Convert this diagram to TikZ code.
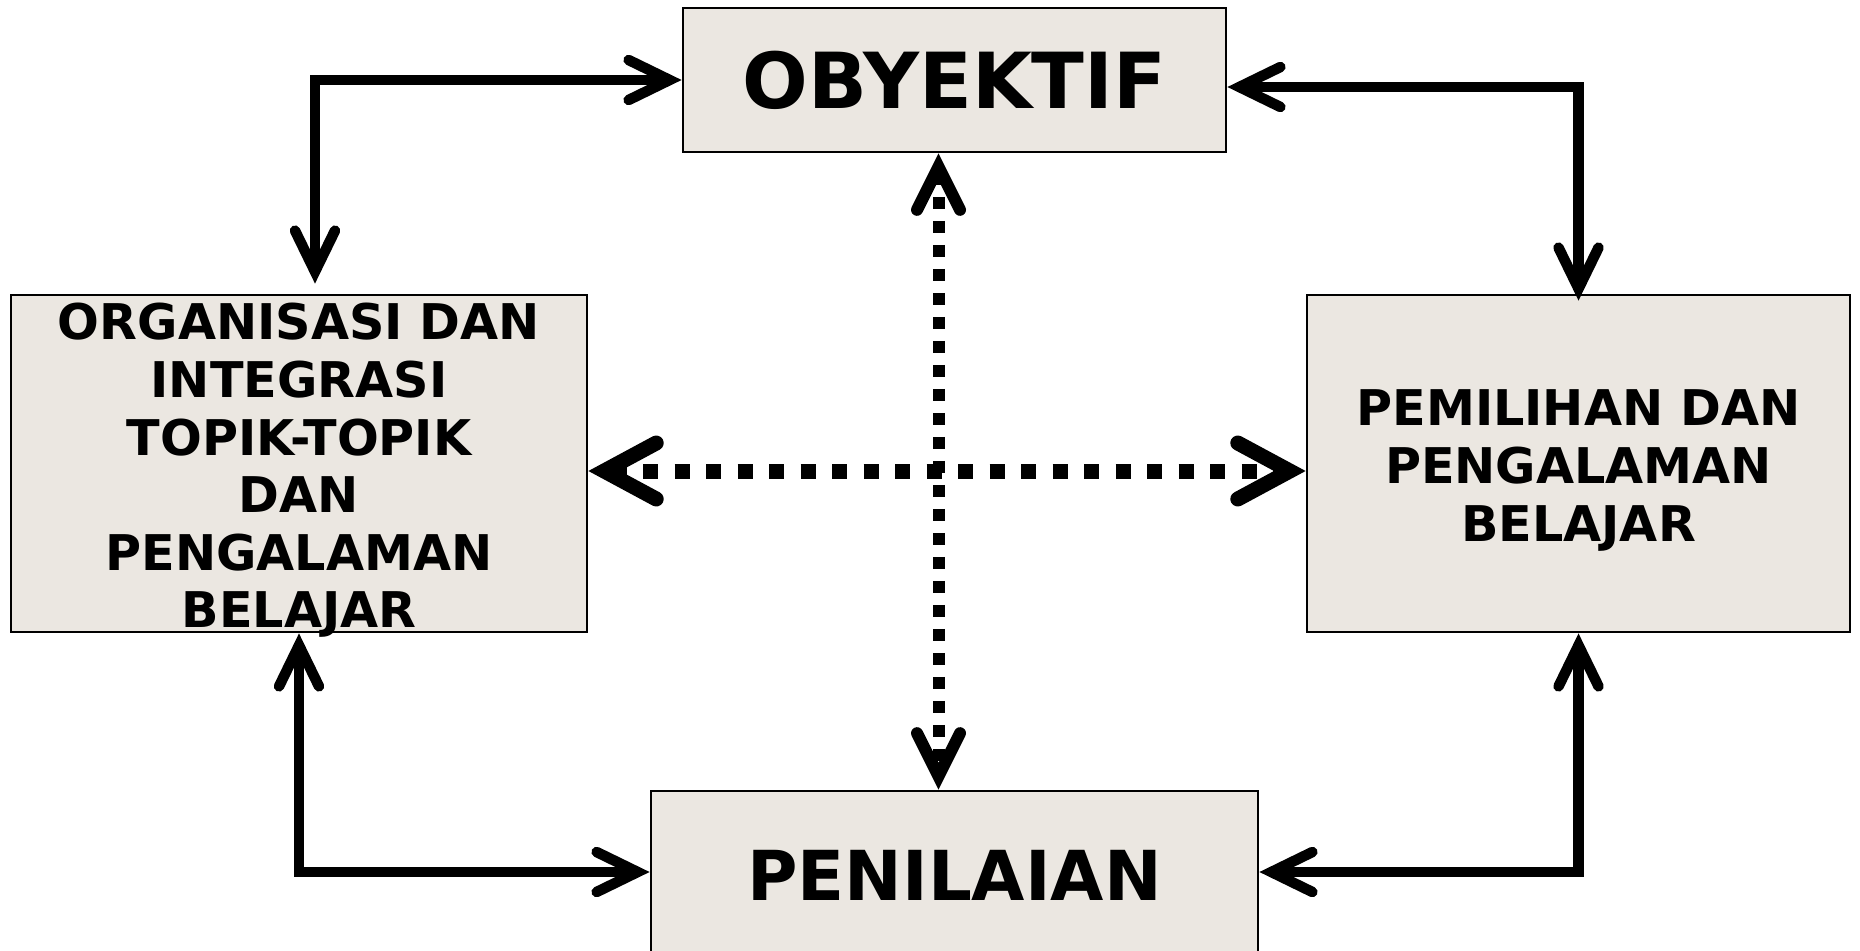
\documentclass[tikz,border=0pt]{standalone}
\usepackage{fontspec}
\setmainfont{DejaVu Sans}
\usetikzlibrary{arrows.meta}
\definecolor{boxfill}{HTML}{EBE7E1}

\begin{document}
\begin{tikzpicture}[
  block/.style={draw,line width=0.8pt,fill=boxfill,inner sep=0pt,align=center},
  bigtext/.style={font=\bfseries\fontsize{22}{26}\selectfont},
  smalltext/.style={inner sep=0pt,align=center,font=\bfseries\fontsize{14}{16.4}\selectfont},
  barb/.tip={Straight Barb[length=4.1mm,width=4mm,line cap=round,line join=miter]},
  link/.style={line width=1.05mm,barb-barb},
  dotlink/.style={line width=1.2mm,dash pattern=on 1.2mm off 1.2mm,
    {Straight Barb[length=4.3mm,width=4.3mm,line cap=round,line join=miter]}-{Straight Barb[length=4.3mm,width=4.3mm,line cap=round,line join=miter]}}
]

\useasboundingbox (0,0) rectangle (18.6,-9.5);

% boxes
\node[block,bigtext,minimum width=5.43cm,minimum height=1.44cm] (obj) at (9.545,-0.80) {OBYEKTIF};
\node[block,minimum width=5.76cm,minimum height=3.37cm] (org) at (2.99,-4.635) {};
\node[smalltext] (orgtext) at ([yshift=-0.7mm]org.center)
  {ORGANISASI DAN\\INTEGRASI\\TOPIK-TOPIK\hspace*{.35em}\\DAN\hspace*{.35em}\\PENGALAMAN\hspace*{.35em}\\BELAJAR};
\node[block,minimum width=5.43cm,minimum height=3.37cm] (pem) at (15.785,-4.635) {};
\node[smalltext] (pemtext) at ([yshift=-0.7mm]pem.center) {PEMILIHAN DAN\\PENGALAMAN\\BELAJAR};
\node[block,font=\bfseries\fontsize{19.6}{24}\selectfont,minimum width=6.07cm,minimum height=1.68cm] (pen) at (9.545,-8.75) {PENILAIAN};

% solid links
\draw[link] (obj.west) -| ([xshift=1.6mm,yshift=1mm]org.north);
\draw[link] ([yshift=-0.7mm]obj.east) -| ([yshift=-0.7mm]pem.north);
\draw[link] (org.south) |- ([yshift=0.3mm]pen.west);
\draw[link] ([yshift=0.3mm]pen.east) -| (pem.south);

% dotted links
\draw[dotlink] ([xshift=-1.6mm]obj.south) -- ([xshift=-1.6mm]pen.north);
\draw[dotlink,line width=1.5mm,dash pattern=on 1.5mm off 1.65mm,
  {Straight Barb[length=5.2mm,width=5.6mm,line cap=round,line join=miter]}-{Straight Barb[length=5.2mm,width=5.6mm,line cap=round,line join=miter]}]
  ([yshift=-0.75mm]org.east) -- ([yshift=-0.75mm]pem.west);
\end{tikzpicture}
\end{document}
